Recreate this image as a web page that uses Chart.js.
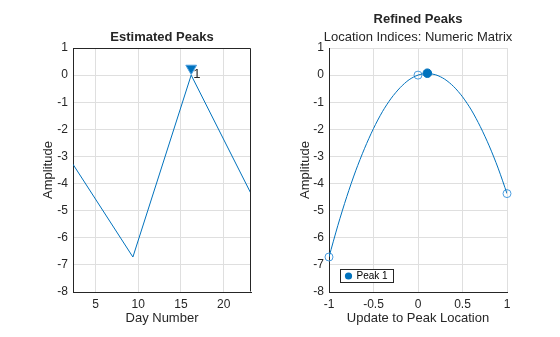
<!DOCTYPE html>
<html><head><meta charset="utf-8">
<script src="https://cdn.jsdelivr.net/npm/chart.js@4/dist/chart.umd.min.js"></script>
<style>
html,body{margin:0;padding:0;background:#fff;width:560px;height:337px;overflow:hidden;}
#c1{position:absolute;left:0;top:0;}
#c2{position:absolute;left:280px;top:0;}
</style></head><body>
<canvas id="c1" width="324" height="337"></canvas>
<canvas id="c2" width="276" height="337"></canvas>
<script>
// ---- Left panel: estimated peaks ----
const dayNumber = [2.37, 9.38, 16.2, 23.2];
const amplitude = [-3.29, -6.71, 0.0, -4.37];
const peakDay = [16.2];
const peakMarkerAmp = [0.25];
const peakAmp = [0.0];
const peakLabels = ['1'];
const leftXTicks = [5, 10, 15, 20];
const yTicks = [-8, -7, -6, -5, -4, -3, -2, -1, 0, 1];

// ---- Right panel: refined peaks ----
const updateX = [-1, -0.9, -0.8, -0.7, -0.6, -0.5, -0.4, -0.3, -0.2, -0.1, 0, 0.1, 0.2, 0.3, 0.4, 0.5, 0.6, 0.7, 0.8, 0.9, 1];
const fitAmp = [-6.71, -5.54, -4.48, -3.53, -2.70, -1.97, -1.35, -0.85, -0.46, -0.17, 0.0, 0.06, 0.01, -0.15, -0.42, -0.80, -1.29, -1.90, -2.61, -3.43, -4.37];
const sampleX = [-1, 0, 1];
const sampleAmp = [-6.71, 0.0, -4.37];
const refinedX = [0.105];
const refinedAmp = [0.07];
const rightXTicks = [-1, -0.5, 0, 0.5, 1];

const FONT = "'Liberation Sans', Arial, Helvetica, sans-serif";
const TXT = '#262626';
const GRID = '#dfdfdf';
const BLUE = '#0072BD';
Chart.defaults.font.family = FONT;
Chart.defaults.color = TXT;

const pts = (xs, ys) => xs.map((x, i) => ({x: x, y: ys[i]}));

function axisX(min, max, ticks, title) {
  return {
    type: 'linear', min: min, max: max,
    afterBuildTicks: s => { s.ticks = ticks.map(v => ({value: v})); },
    afterFit: s => { s.height = 45; },
    grid: {color: GRID, drawTicks: false},
    border: {display: true, color: TXT, width: 1},
    ticks: {color: TXT, font: {size: 12}, padding: 5, maxRotation: 0, autoSkip: false, callback: v => String(v)},
    title: {display: true, text: title, color: TXT, font: {size: 13}, padding: {top: 0, bottom: 11.2}}
  };
}
function axisY(width, titlePad) {
  return {
    type: 'linear', min: -8, max: 1,
    afterBuildTicks: s => { s.ticks = yTicks.map(v => ({value: v})); },
    afterFit: s => { s.width = width; },
    grid: {color: GRID, drawTicks: false},
    border: {display: true, color: TXT, width: 1},
    ticks: {color: TXT, font: {size: 12}, padding: 5, autoSkip: false, callback: v => String(v)},
    title: {display: true, text: 'Amplitude', color: TXT, font: {size: 13}, padding: {top: titlePad, bottom: 0}}
  };
}
// empty right-hand spacer axis so the full-width title stays centred over the plot
function spacerY(width) {
  return {
    type: 'linear', position: 'right', min: -8, max: 1, display: true,
    afterFit: s => { s.width = width; },
    grid: {display: false, drawTicks: false}, border: {display: false},
    ticks: {display: false}, title: {display: false}
  };
}

const boxPlugin = {
  id: 'boxOn',
  afterDraw(chart) {
    const a = chart.chartArea, ctx = chart.ctx;
    ctx.save();
    ctx.strokeStyle = TXT; ctx.lineWidth = 1;
    ctx.beginPath();
    ctx.moveTo(Math.round(a.left) + 0.5, Math.round(a.top) + 0.5);
    ctx.lineTo(Math.round(a.right) - 0.5, Math.round(a.top) + 0.5);
    ctx.lineTo(Math.round(a.right) - 0.5, Math.round(a.bottom) - 0.5);
    ctx.stroke();
    ctx.restore();
  }
};
const peakTextPlugin = {
  id: 'peakText',
  afterDatasetsDraw(chart) {
    const ctx = chart.ctx, sx = chart.scales.x, sy = chart.scales.y;
    ctx.save();
    ctx.fillStyle = TXT; ctx.font = '13px ' + FONT;
    ctx.textAlign = 'left'; ctx.textBaseline = 'middle';
    peakLabels.forEach((t, i) => {
      ctx.fillText(t, sx.getPixelForValue(peakDay[i]) + 2, sy.getPixelForValue(peakAmp[i]) - 1);
    });
    ctx.restore();
  }
};
const legendPlugin = {
  id: 'innerLegend',
  afterDraw(chart) {
    const ds = chart.data.datasets.find(d => d.inLegend);
    const a = chart.chartArea, ctx = chart.ctx;
    ctx.save();
    ctx.font = '10px ' + FONT;
    const tw = ctx.measureText(ds.label).width;
    const x0 = Math.round(a.left + 11) + 0.5, h = 13, w = Math.round(tw + 22);
    const y0 = Math.round(a.bottom - 10 - h) + 0.5;
    ctx.fillStyle = '#fff'; ctx.fillRect(x0, y0, w, h);
    ctx.strokeStyle = TXT; ctx.lineWidth = 1; ctx.strokeRect(x0, y0, w, h);
    ctx.fillStyle = ds.backgroundColor;
    ctx.beginPath(); ctx.arc(x0 + 8, y0 + h / 2, 3.6, 0, Math.PI * 2); ctx.fill();
    ctx.fillStyle = '#000'; ctx.textAlign = 'left'; ctx.textBaseline = 'middle';
    ctx.fillText(ds.label, x0 + 16, y0 + h / 2 + 0.5);
    ctx.restore();
  }
};

new Chart(document.getElementById('c1'), {
  type: 'scatter',
  data: {datasets: [
    {label: 'Signal', data: pts(dayNumber, amplitude), showLine: true, pointRadius: 0, borderColor: BLUE, borderWidth: 1, tension: 0},
    {label: 'Peaks', data: pts(peakDay, peakMarkerAmp), pointStyle: 'triangle', rotation: 180, pointRadius: 6.2,
     backgroundColor: BLUE, borderColor: '#4d9fe0', borderWidth: 1, clip: false}
  ]},
  options: {
    responsive: false, animation: false, devicePixelRatio: 1,
    layout: {padding: 0},
    plugins: {
      legend: {display: false}, tooltip: {enabled: false},
      title: {display: true, text: 'Estimated Peaks', color: TXT, font: {size: 13, weight: 'bold'}, padding: {top: 29.5, bottom: 2.9}}
    },
    scales: {x: axisX(dayNumber[0], dayNumber[dayNumber.length - 1], leftXTicks, 'Day Number'), y: axisY(73, 40.2), yr: spacerY(73)}
  },
  plugins: [boxPlugin, peakTextPlugin]
});

new Chart(document.getElementById('c2'), {
  type: 'scatter',
  data: {datasets: [
    {label: 'Fit', data: pts(updateX, fitAmp), showLine: true, pointRadius: 0, borderColor: BLUE, borderWidth: 1, tension: 0.3},
    {label: 'Samples', data: pts(sampleX, sampleAmp), pointRadius: 4, pointStyle: 'circle',
     backgroundColor: 'rgba(255,255,255,0)', borderColor: '#4a9de0', borderWidth: 1, clip: false},
    {label: 'Peak 1', inLegend: true, data: pts(refinedX, refinedAmp), pointRadius: 4.3, pointStyle: 'circle',
     backgroundColor: BLUE, borderColor: BLUE, borderWidth: 1, clip: false}
  ]},
  options: {
    responsive: false, animation: false, devicePixelRatio: 1,
    layout: {padding: 0},
    plugins: {
      legend: {display: false}, tooltip: {enabled: false},
      title: {display: true, text: 'Refined Peaks', color: TXT, font: {size: 13, weight: 'bold'}, padding: {top: 11.2, bottom: 0}},
      subtitle: {display: true, text: 'Location Indices: Numeric Matrix', color: TXT, font: {size: 13, weight: 'normal'}, padding: {top: 2.7, bottom: 2.9}}
    },
    scales: {x: axisX(-1, 1, rightXTicks, 'Update to Peak Location'), y: axisY(49, 17.2), yr: spacerY(49)}
  },
  plugins: [legendPlugin]
});
</script>
</body></html>
